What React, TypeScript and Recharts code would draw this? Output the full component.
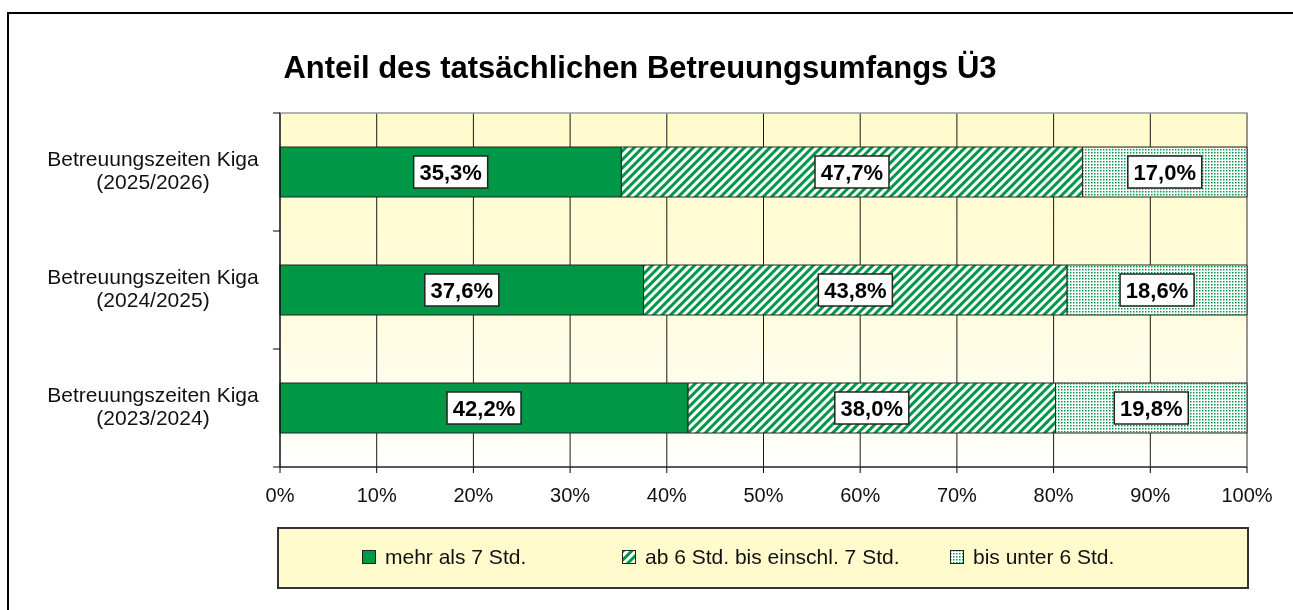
import { BarChart, Bar, XAxis, YAxis, CartesianGrid, LabelList, ReferenceArea } from "recharts";

const title = "Anteil des tatsächlichen Betreuungsumfangs Ü3";
const groupLabel = "Betreuungszeiten Kiga";
const periods = ["2025/2026", "2024/2025", "2023/2024"];
const over7 = [35.3, 37.6, 42.2];
const from6to7 = [47.7, 43.8, 38.0];
const under6 = [17.0, 18.6, 19.8];
const xTicks = [0, 10, 20, 30, 40, 50, 60, 70, 80, 90, 100];
const seriesNames = ["mehr als 7 Std.", "ab 6 Std. bis einschl. 7 Std.", "bis unter 6 Std."];

const data = periods.map((p, i) => ({
  period: p,
  over7: over7[i],
  from6to7: from6to7[i],
  under6: under6[i],
}));

const FONT = "Arial, 'Liberation Sans', sans-serif";
const GREEN = "#009846";
const W = 1277;
const H = 594;
const PLOT_TOP = 105;
const PLOT_BOTTOM = 459;
const BAND_HALF = (PLOT_BOTTOM - PLOT_TOP) / periods.length / 2;
const PLOT_LEFT = 272;

const fmt = (v: number) => v.toFixed(1).replace(".", ",") + "%";

function YTick(props: any) {
  const { y, payload, index } = props;
  return (
    <g>
      <text x={145} y={y - 6} textAnchor="middle" fontSize={21} fill="#111" fontFamily={FONT}>
        {groupLabel}
      </text>
      <text x={145} y={y + 17} textAnchor="middle" fontSize={21} fill="#111" fontFamily={FONT}>
        ({payload.value})
      </text>
      {index === 0 && (
        <line x1={PLOT_LEFT - 7} x2={PLOT_LEFT} y1={y - BAND_HALF} y2={y - BAND_HALF} stroke="#000" />
      )}
      <line x1={PLOT_LEFT - 7} x2={PLOT_LEFT} y1={y + BAND_HALF} y2={y + BAND_HALF} stroke="#000" />
    </g>
  );
}

function ValueBox(props: any) {
  const { x, y, width, height, value } = props;
  const cx = x + width / 2;
  const cy = y + height / 2;
  return (
    <g>
      <rect x={cx - 37} y={cy - 16} width={74} height={32} fill="#fff" stroke="#222" strokeWidth={1.5} />
      <text x={cx} y={cy + 8} textAnchor="middle" fontSize={22} fontWeight="bold" fill="#000" fontFamily={FONT}>
        {fmt(value)}
      </text>
    </g>
  );
}

function Patterns() {
  return (
    <defs>
      <linearGradient id="plotBg" x1="0" y1="0" x2="0" y2="1">
        <stop offset="0%" stopColor="#FFFBCC" />
        <stop offset="50%" stopColor="#FFFCDA" />
        <stop offset="100%" stopColor="#FFFFFD" />
      </linearGradient>
      <pattern id="stripes" patternUnits="userSpaceOnUse" width="6" height="6" patternTransform="rotate(45)">
        <rect width="6" height="6" fill="#fff" />
        <rect width="3" height="6" fill={GREEN} />
      </pattern>
      <pattern id="dots" patternUnits="userSpaceOnUse" width="3" height="3">
        <rect width="3" height="3" fill="#fff" />
        <rect width="1.5" height="1.5" fill={GREEN} />
      </pattern>
    </defs>
  );
}

const legendFills = [GREEN, "url(#stripes)", "url(#dots)"];
const legendX = [354, 614, 942];

export default function App() {
  return (
    <div style={{ position: "relative", width: W, height: H, fontFamily: FONT }}>
      <div
        style={{
          position: "fixed",
          left: 7,
          top: 12,
          width: 1400,
          height: 700,
          borderTop: "2px solid #000",
          borderLeft: "2px solid #000",
          boxSizing: "border-box",
        }}
      />
      <div
        style={{
          position: "absolute",
          left: 0,
          top: 42,
          width: 1264,
          textAlign: "center",
          fontSize: 31,
          fontWeight: "bold",
          color: "#000",
        }}
      >
        {title}
      </div>
      <div style={{ position: "absolute", left: 0, top: 0 }}>
        <BarChart
          width={W}
          height={H}
          data={data}
          layout="vertical"
          margin={{ top: PLOT_TOP, right: 38, bottom: 95, left: 0 }}
          barSize={50}
        >
          <Patterns />
          <CartesianGrid horizontal={false} stroke="#1a1a1a" fill="url(#plotBg)" />
          <ReferenceArea x1={0} x2={100} fill="none" stroke="#999" strokeWidth={1.5} />
          <XAxis
            type="number"
            domain={[0, 100]}
            ticks={xTicks}
            tickFormatter={(v) => `${v}%`}
            height={40}
            tickSize={6}
            tickMargin={15}
            axisLine={{ stroke: "#000" }}
            tickLine={{ stroke: "#000" }}
            tick={{ fontSize: 20, fill: "#111", fontFamily: FONT }}
          />
          <YAxis
            type="category"
            dataKey="period"
            width={272}
            axisLine={{ stroke: "#000" }}
            tickLine={false}
            tick={<YTick />}
          />
          <Bar dataKey="over7" stackId="a" fill={GREEN} stroke="#222" strokeWidth={1} isAnimationActive={false}>
            <LabelList dataKey="over7" content={<ValueBox />} />
          </Bar>
          <Bar dataKey="from6to7" stackId="a" fill="url(#stripes)" stroke="#222" strokeWidth={1} isAnimationActive={false}>
            <LabelList dataKey="from6to7" content={<ValueBox />} />
          </Bar>
          <Bar dataKey="under6" stackId="a" fill="url(#dots)" stroke="#222" strokeWidth={1} isAnimationActive={false}>
            <LabelList dataKey="under6" content={<ValueBox />} />
          </Bar>
        </BarChart>
      </div>
      <div
        style={{
          position: "absolute",
          left: 269,
          top: 519,
          width: 972,
          height: 62,
          boxSizing: "border-box",
          border: "2px solid #333",
          background: "#FFFBCC",
        }}
      >
        {seriesNames.map((name, i) => (
          <div
            key={name}
            style={{
              position: "absolute",
              left: legendX[i] - 269 - 2,
              top: 16,
              display: "flex",
              alignItems: "center",
              whiteSpace: "nowrap",
              fontSize: 21,
              color: "#111",
            }}
          >
            <svg width={14} height={14} style={{ marginRight: 9 }}>
              <rect x={0.5} y={0.5} width={13} height={13} fill={legendFills[i]} stroke="#222" strokeWidth={1} />
            </svg>
            <span>{name}</span>
          </div>
        ))}
      </div>
    </div>
  );
}
